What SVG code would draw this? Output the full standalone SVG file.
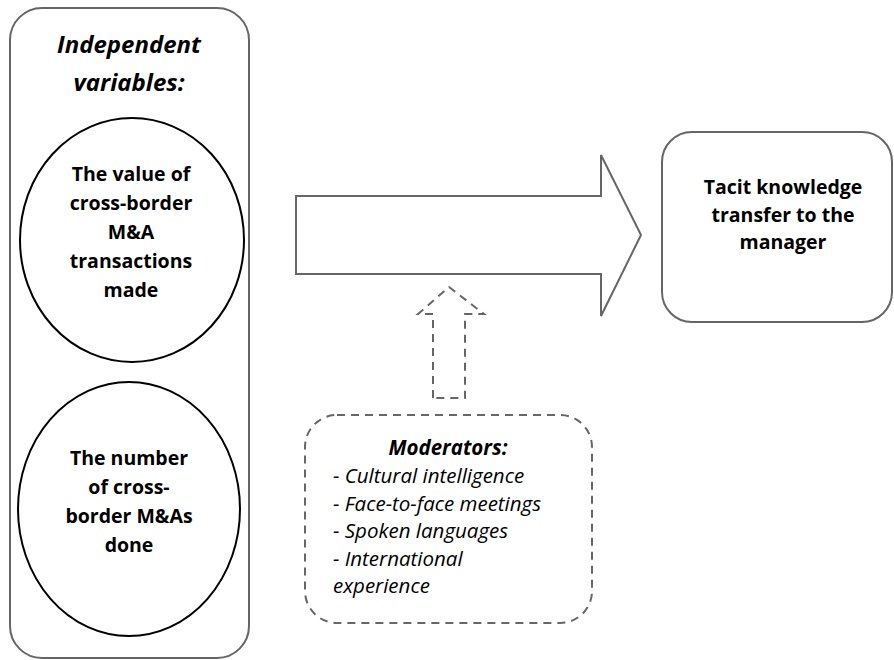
<svg xmlns="http://www.w3.org/2000/svg" width="894" height="660" viewBox="0 0 894 660">
<style>
.box{fill:#fff;stroke:#666;stroke-width:2}
.ell{fill:#fff;stroke:#000;stroke-width:2}
.dash{fill:#fff;stroke:#666;stroke-width:2;stroke-dasharray:8,6}
.b{font-family:"Open Sans","Liberation Sans",sans-serif;font-weight:bold;font-size:19.5px;fill:#000;text-anchor:middle}
.title{font-family:"Open Sans","Liberation Sans",sans-serif;font-weight:bold;font-style:italic;font-size:24px;fill:#000;text-anchor:middle}
.it{font-family:"Open Sans","Liberation Sans",sans-serif;font-style:italic;font-size:20.5px;fill:#000}
</style>
<rect width="894" height="660" fill="#fff"/>
<g id="independent">
<rect class="box" x="10" y="8" width="239" height="650" rx="32"/>
<text class="title" x="129" y="53">Independent</text>
<text class="title" x="129" y="91">variables:</text>
</g>
<g id="value">
<ellipse class="ell" cx="132" cy="240" rx="112" ry="122"/>
<text class="b" x="131" y="181">The value of</text>
<text class="b" x="131" y="210">cross-border</text>
<text class="b" x="131" y="239">M&amp;A</text>
<text class="b" x="131" y="268">transactions</text>
<text class="b" x="131" y="297">made</text>
</g>
<g id="number">
<ellipse class="ell" cx="129" cy="509" rx="111" ry="127"/>
<text class="b" x="129" y="465">The number</text>
<text class="b" x="129" y="494">of cross-</text>
<text class="b" x="129" y="523">border M&amp;As</text>
<text class="b" x="129" y="552">done</text>
</g>
<g id="tacit">
<rect class="box" x="662" y="132" width="230" height="190" rx="30"/>
<text class="b" x="783" y="194">Tacit knowledge</text>
<text class="b" x="783" y="222">transfer to the</text>
<text class="b" x="783" y="249">manager</text>
</g>
<g id="moderators">
<rect class="dash" x="305" y="415" width="287" height="208" rx="32"/>
<text class="it" x="448" y="455" text-anchor="middle" font-weight="bold">Moderators:</text>
<text class="it" x="333" y="483">- Cultural intelligence</text>
<text class="it" x="333" y="511">- Face-to-face meetings</text>
<text class="it" x="333" y="538">- Spoken languages</text>
<text class="it" x="333" y="566">- International</text>
<text class="it" x="333" y="593">experience</text>
</g>
<g id="connectors">
<path class="box" d="M296,196 H601 V155 L641,235 L601,316 V274 H296 Z"/>
<path class="dash" d="M433,398 V314 H418 L449,287 L484,314 H465 V398 Z" stroke-dasharray="7,6"/>
</g>
</svg>
